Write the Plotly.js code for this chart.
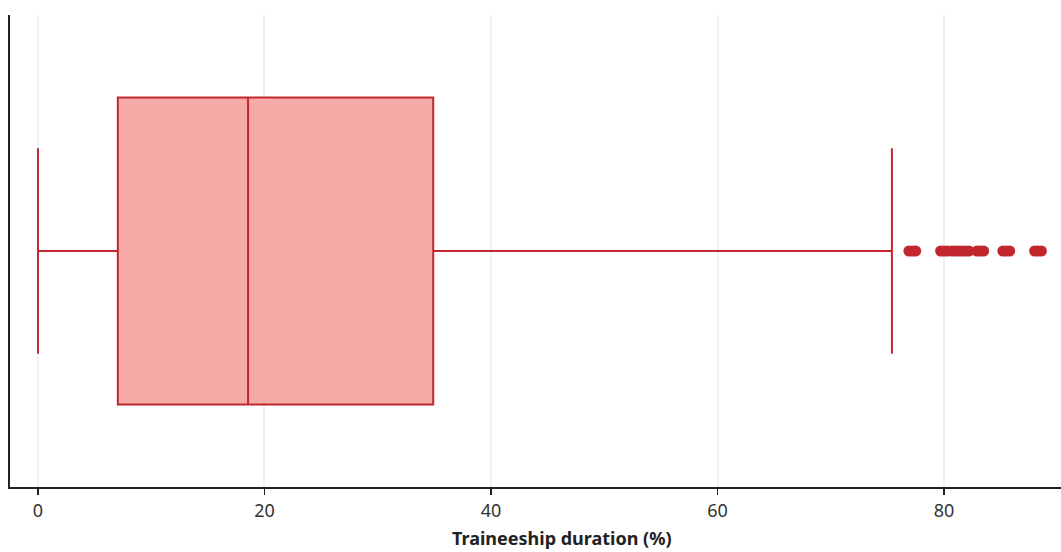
<!DOCTYPE html>
<html>
<head>
<meta charset="utf-8">
<script src="https://cdn.plot.ly/plotly-3.0.1.min.js"></script>
<style>html,body{margin:0;padding:0;background:#fff;}#chart{width:1061px;height:552px;}</style>
</head>
<body>
<div id="chart"></div>
<script>
// Box statistics (Traineeship duration, %)
const boxLabel = ['Traineeship'];
const lowerFence = [0];
const q1Values = [7.05];
const medianValues = [18.55];
const q3Values = [34.9];
const upperFence = [75.4];
// Outlier observations
const outliers = [76.9, 77.2, 77.5, 79.7, 80.0, 80.3, 80.7, 81.0, 81.3, 81.6, 81.9, 82.2,
                  82.9, 83.2, 83.5, 85.2, 85.5, 85.8, 88.0, 88.3, 88.6];
const tickVals = [0, 20, 40, 60, 80];
const axisTitle = 'Traineeship duration (%)';

const red = '#c1272d';
const data = [
  {
    type: 'box', orientation: 'h',
    y: [0], name: boxLabel[0], width: 0.65,
    lowerfence: lowerFence, q1: q1Values, median: medianValues, q3: q3Values, upperfence: upperFence,
    fillcolor: '#f7aba8', line: {color: red, width: 2},
    whiskerwidth: 0.67, boxpoints: false, hoverinfo: 'x'
  },
  {
    type: 'scatter', mode: 'markers',
    x: outliers, y: outliers.map(() => 0),
    marker: {color: red, size: 11, line: {width: 0}},
    hoverinfo: 'x'
  }
];
const layout = {
  width: 1061, height: 552,
  margin: {l: 10, r: 0, t: 15, b: 65},
  paper_bgcolor: '#fff', plot_bgcolor: '#fff',
  showlegend: false,
  font: {family: 'Noto Sans, Open Sans, sans-serif', color: '#333'},
  xaxis: {
    range: [-2.47, 90.33], tickvals: tickVals, ticktext: tickVals.map(String),
    showgrid: true, gridcolor: '#e8f3f3', gridwidth: 2, zeroline: false,
    showline: true, linecolor: '#222', linewidth: 2,
    ticks: 'outside', ticklen: 6, tickwidth: 1.5, tickcolor: '#222',
    tickfont: {size: 18, color: '#333'}
  },
  yaxis: {
    range: [-0.5, 0.5], showticklabels: false, showgrid: false, zeroline: false,
    showline: true, linecolor: '#222', linewidth: 2, ticks: ''
  },
  annotations: [{
    text: '<b>' + axisTitle + '</b>', xref: 'paper', yref: 'paper',
    x: 0.525, y: -0.109, xanchor: 'center', yanchor: 'middle', showarrow: false,
    font: {size: 18, color: '#222'}
  }]
};
Plotly.newPlot('chart', data, layout, {displayModeBar: false, staticPlot: true});
</script>
</body>
</html>
